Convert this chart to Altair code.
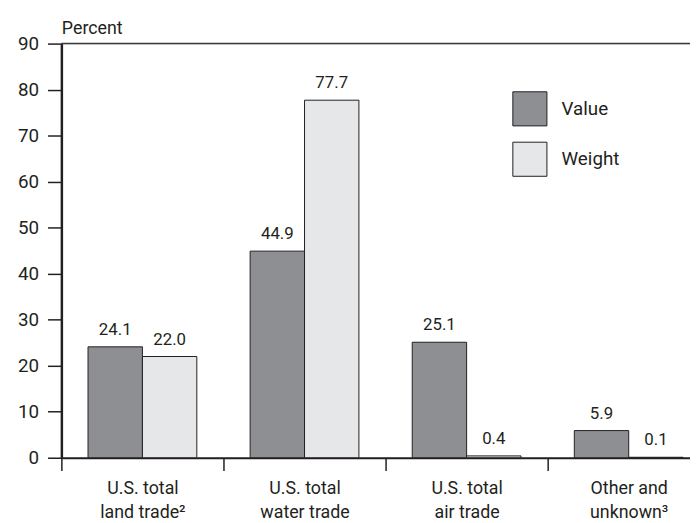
import altair as alt
import pandas as pd

categories = ["U.S. total\nland trade²", "U.S. total\nwater trade", "U.S. total\nair trade", "Other and\nunknown³"]
series = ["Value", "Weight"]
value_pct = [24.1, 44.9, 25.1, 5.9]
weight_pct = [22.0, 77.7, 0.4, 0.1]
y_ticks = [0, 10, 20, 30, 40, 50, 60, 70, 80, 90]
colors = ["#8e8f92", "#e6e7e8"]

rows = []
for c, v, w in zip(categories, value_pct, weight_pct):
    rows.append({"cat": c, "series": "Value", "pct": v})
    rows.append({"cat": c, "series": "Weight", "pct": w})
df = pd.DataFrame(rows)

FONT = "Roboto, Liberation Sans, sans-serif"
INK = "#231f20"

xscale = alt.Scale(domain=categories, range=[0, 656], paddingInner=0, paddingOuter=0)
xoff = alt.Scale(domain=series, paddingInner=0, paddingOuter=0.49)
yscale = alt.Scale(domain=[0, 90], nice=False)

base = alt.Chart(df)

bars = base.mark_bar(stroke=INK, strokeWidth=1).encode(
    x=alt.X("cat:N", sort=categories, scale=xscale, title=None,
            axis=alt.Axis(tickBand="extent", labelExpr="split(datum.label, '\\n')",
                          labelAngle=0, labelFontSize=18, labelFont=FONT, labelColor=INK,
                          labelLineHeight=24, labelPadding=9, tickSize=13, tickWidth=1.5,
                          tickColor=INK, domainColor=INK, domainWidth=2)),
    xOffset=alt.XOffset("series:N", sort=series, scale=xoff),
    y=alt.Y("pct:Q", scale=yscale,
            axis=alt.Axis(values=y_ticks, title="Percent", titleAngle=0, titleX=0, titleY=-10,
                          titleAlign="left", titleBaseline="alphabetic", titleFont=FONT,
                          titleFontSize=18, titleFontWeight="normal", titleColor=INK,
                          labelFont=FONT, labelFontSize=19, labelColor=INK, labelPadding=9,
                          tickSize=14, tickWidth=1.5, tickColor=INK, domainColor=INK,
                          domainWidth=2.5, grid=False)),
    color=alt.Color("series:N", sort=series, scale=alt.Scale(domain=series, range=colors),
                    legend=alt.Legend(title=None, orient="none", legendX=456, legendY=48,
                                      symbolType="square", symbolSize=1190,
                                      symbolStrokeColor=INK, symbolStrokeWidth=1,
                                      symbolOpacity=1, labelFont=FONT, labelFontSize=19,
                                      labelColor=INK, labelOffset=14, rowPadding=11,
                                      padding=0)),
)

labels = base.mark_text(baseline="bottom", dy=-8, font=FONT, fontSize=17, color=INK).encode(
    x=alt.X("cat:N", sort=categories, scale=xscale),
    xOffset=alt.XOffset("series:N", sort=series, scale=xoff),
    y=alt.Y("pct:Q", scale=yscale),
    text=alt.Text("pct:Q", format=".1f"),
)

top = alt.Chart(pd.DataFrame({"v": [90]})).mark_rule(color="#3a3a3a", strokeWidth=1.5).encode(
    y=alt.Y("v:Q", scale=yscale), x=alt.value(0), x2=alt.value(656)
)

chart = alt.layer(bars, labels, top).properties(
    width=636, height=419,
    padding={"left": 54, "top": 33, "right": 0, "bottom": 62},
    autosize=alt.AutoSizeParams(type="none"),
).configure_view(stroke=None).configure(background="white")

chart.save("out.html", embed_options={"renderer": "svg", "actions": False})
